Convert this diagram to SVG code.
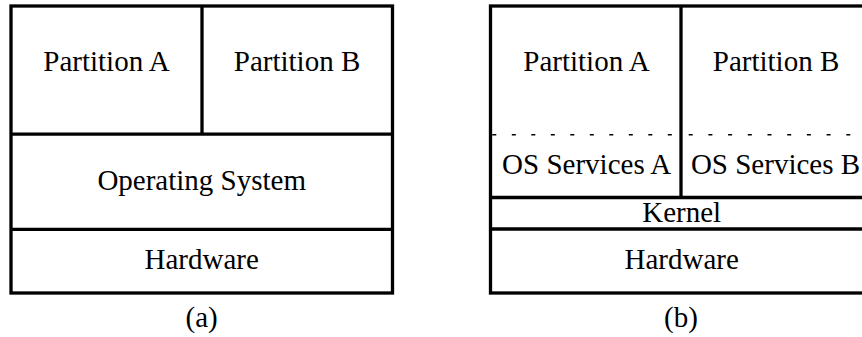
<svg xmlns="http://www.w3.org/2000/svg" width="862" height="337" viewBox="0 0 862 337">
<style>
.box{fill:none;stroke:#000;stroke-width:3.3}
.ln{stroke:#000;stroke-width:3.3;fill:none}
.dash{stroke:#000;stroke-width:1.4;fill:none}
</style>
<rect width="862" height="337" fill="#fff"/>
<g id="diagram-a" font-size="29">
  <g id="a-frame"><rect class="box" x="11" y="6" width="381.5" height="287"/></g>
  <g id="a-partition-a"><text x="106.5" y="70.7" text-anchor="middle" font-family="Times New Roman">Partition A</text></g>
  <g id="a-partition-b"><text x="297" y="70.7" text-anchor="middle" font-family="Times New Roman">Partition B</text></g>
  <g id="a-os"><text x="201.7" y="190" text-anchor="middle" font-family="Times New Roman">Operating System</text></g>
  <g id="a-hardware"><text x="201.7" y="269.3" text-anchor="middle" font-family="Times New Roman">Hardware</text></g>
  <g id="a-caption"><text x="201.7" y="327" text-anchor="middle" font-family="Times New Roman">(a)</text></g>
</g>
<g id="diagram-b" font-size="29">
  <g id="b-frame"><rect class="box" x="490.5" y="6" width="382" height="287"/></g>
  <g id="b-partition-a"><text x="586.5" y="70.7" text-anchor="middle" font-family="Times New Roman">Partition A</text></g>
  <g id="b-partition-b"><text x="776" y="70.7" text-anchor="middle" font-family="Times New Roman">Partition B</text></g>
  <g id="b-os-a"><text x="586.7" y="174" text-anchor="middle" font-family="Times New Roman">OS Services A</text></g>
  <g id="b-os-b"><text x="775.5" y="174" text-anchor="middle" font-family="Times New Roman">OS Services B</text></g>
  <g id="b-kernel"><text x="681.7" y="222.3" text-anchor="middle" font-family="Times New Roman">Kernel</text></g>
  <g id="b-hardware"><text x="681.7" y="269.3" text-anchor="middle" font-family="Times New Roman">Hardware</text></g>
  <g id="b-caption"><text x="681" y="327" text-anchor="middle" font-family="Times New Roman">(b)</text></g>
</g>
<g id="connectors">
  <line class="ln" x1="202" y1="6" x2="202" y2="134.2"/>
  <line class="ln" x1="11" y1="134.2" x2="392.5" y2="134.2"/>
  <line class="ln" x1="11" y1="229.3" x2="392.5" y2="229.3"/>
  <line class="ln" x1="681" y1="6" x2="681" y2="197.5"/>
  <line class="ln" x1="490.5" y1="197.5" x2="872.5" y2="197.5"/>
  <line class="ln" x1="490.5" y1="229" x2="872.5" y2="229"/>
  <line class="dash" x1="492.3" y1="134.8" x2="672" y2="134.8" stroke-dasharray="4 15.5"/>
  <line class="dash" x1="688.7" y1="134.8" x2="851" y2="134.8" stroke-dasharray="4 15.7"/>
</g>
</svg>
